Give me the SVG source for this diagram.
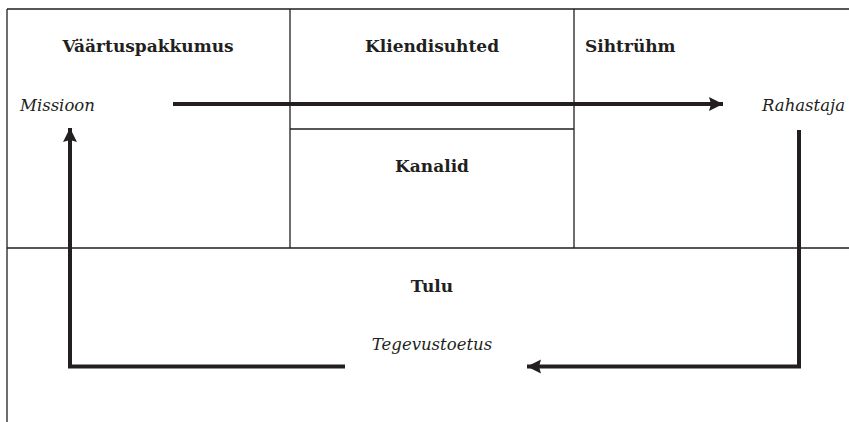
<svg xmlns="http://www.w3.org/2000/svg" width="849" height="422" viewBox="0 0 849 422">
<style>
.grid{stroke:#231f20;stroke-width:1.3;fill:none}
.h{font-family:"DejaVu Serif","Liberation Serif",serif;font-weight:bold;font-size:17px;fill:#231f20}
.i{font-family:"DejaVu Serif","Liberation Serif",serif;font-style:italic;font-size:16.5px;fill:#231f20}
.c{text-anchor:middle}
.flow{stroke:#231f20;stroke-width:4;fill:none}
</style>
<defs>
<marker id="ah" markerUnits="userSpaceOnUse" markerWidth="16" markerHeight="16" viewBox="0 0 16 16" refX="14" refY="8" orient="auto">
<path d="M0,1 L14,8 L0,15 L2,8 Z" fill="#231f20"/>
</marker>
</defs>
<rect width="849" height="422" fill="#fff"/>
<g id="grid" class="grid">
<path d="M7,9 H849 M7,9 V422 M7,248 H849 M290,9 V248 M574,9 V248 M290,129 H574"/>
</g>
<g id="vaartuspakkumus"><text class="h c" x="148" y="52">Väärtuspakkumus</text><text class="i" x="20" y="111">Missioon</text></g>
<g id="kliendisuhted"><text class="h c" x="432" y="52">Kliendisuhted</text></g>
<g id="kanalid"><text class="h c" x="432" y="172">Kanalid</text></g>
<g id="sihtruhm"><text class="h" x="585" y="52">Sihtrühm</text><text class="i" x="845" y="111" text-anchor="end">Rahastaja</text></g>
<g id="tulu"><text class="h c" x="432" y="292">Tulu</text><text class="i c" x="432" y="350">Tegevustoetus</text></g>
<g id="connectors">
<path class="flow" d="M173,104 H723" marker-end="url(#ah)"/>
<path class="flow" d="M799,130 V366.5 H527" marker-end="url(#ah)"/>
<path class="flow" d="M345,366.5 H70 V128" marker-end="url(#ah)"/>
</g>
</svg>
